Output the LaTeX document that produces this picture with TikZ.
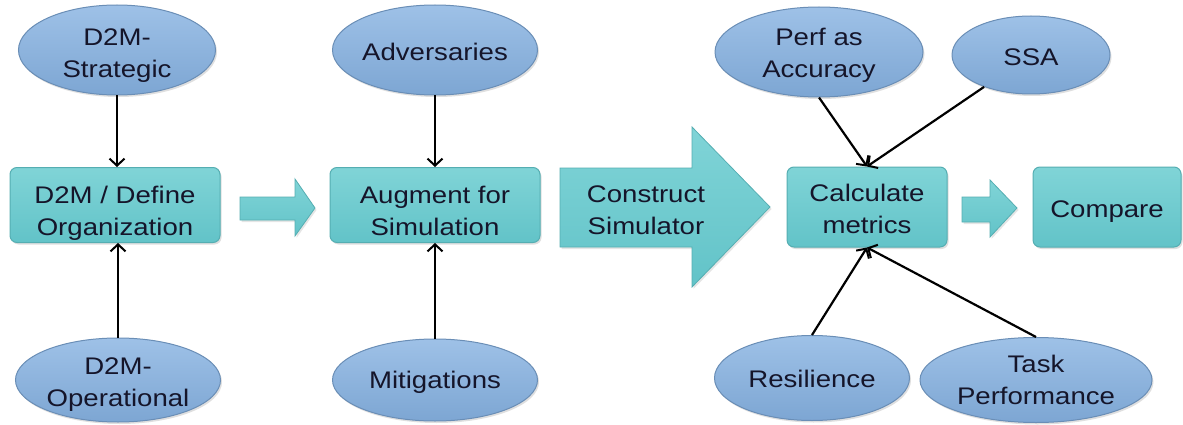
\documentclass[tikz,border=0pt]{standalone}
\usepackage{fontspec}
\setmainfont{Liberation Sans}[FakeStretch=1.15]
\usetikzlibrary{shapes.geometric,arrows.meta,shadows}
\definecolor{ellT}{HTML}{9EC1E7}
\definecolor{ellD}{HTML}{7DA6D3}
\definecolor{ellB}{HTML}{6A8EB6}
\definecolor{boxT}{HTML}{80D4D7}
\definecolor{boxD}{HTML}{62C3C8}
\definecolor{boxB}{HTML}{55AEB2}
\definecolor{txtC}{HTML}{15152A}
\begin{document}
\begin{tikzpicture}[x=1pt,y=-1pt,
  txt/.style={font=\fontsize{24}{32}\selectfont, align=center, text=txtC, inner sep=0pt},
  ell/.style={ellipse, draw=ellB, line width=1pt, top color=ellT, bottom color=ellD, inner sep=0pt,
    drop shadow={opacity=0.25, shadow xshift=1.5pt, shadow yshift=-2pt}},
  box/.style={rectangle, rounded corners=7pt, draw=boxB, line width=1pt, top color=boxT, bottom color=boxD, inner sep=0pt,
    drop shadow={opacity=0.25, shadow xshift=1.5pt, shadow yshift=-2pt}},
  blk/.style={draw=boxB, line width=0.8pt, top color=boxT, bottom color=boxD, line join=miter,
    drop shadow={opacity=0.2, shadow xshift=1.5pt, shadow yshift=-2pt}},
  conn/.style={line width=2.2pt, -{Straight Barb[length=7pt,width=15pt,line width=2pt]}}
]
\useasboundingbox[fill=white] (0,0) rectangle (1183,425);

% ellipses
\node[ell, minimum width=197pt, minimum height=90pt, label={[txt,yshift=-6pt]center:{D2M-\\Strategic}}] (str) at (117,50) {};
\node[ell, minimum width=205pt, minimum height=84pt, label={[txt,yshift=-5pt]center:{D2M-\\Operational}}] (ope) at (118,380) {};
\node[ell, minimum width=205pt, minimum height=90pt, label={[txt,yshift=-2pt]center:{Adversaries}}] (adv) at (435,50) {};
\node[ell, minimum width=205pt, minimum height=82pt, label={[txt,yshift=-2pt]center:{Mitigations}}] (mit) at (435,380) {};
\node[ell, minimum width=208pt, minimum height=90pt, label={[txt,yshift=-3pt]center:{Perf as\\Accuracy}}] (perf) at (819,52) {};
\node[ell, minimum width=158pt, minimum height=78pt, label={[txt,yshift=-2pt]center:{SSA}}] (ssa) at (1031,55) {};
\node[ell, minimum width=195pt, minimum height=85pt, label={[txt,yshift=-1pt]center:{Resilience}}] (res) at (812,378) {};
\node[ell, minimum width=232pt, minimum height=85pt, label={[txt]center:{Task\\Performance}}] (task) at (1036,380) {};

% boxes
\node[box, minimum width=210pt, minimum height=75pt, label={[txt,yshift=-8pt]center:{D2M / Define\\Organization}}] (def) at (115,205) {};
\node[box, minimum width=210pt, minimum height=75pt, label={[txt,yshift=-6pt]center:{Augment for\\Simulation}}] (aug) at (435,205) {};
\node[box, minimum width=160pt, minimum height=80pt, label={[txt,yshift=-2pt]center:{Calculate\\metrics}}] (calc) at (867,207) {};
\node[box, minimum width=148pt, minimum height=80pt, label={[txt,yshift=-5pt]center:{Compare}}] (cmp) at (1107,207) {};

% block arrows
\path[blk] (240,197) -- (295,197) -- (295,179) -- (315,208) -- (295,236) -- (295,220) -- (240,220) -- cycle;
\path[blk] (962,197) -- (990,197) -- (990,180) -- (1017,208) -- (990,237) -- (990,222) -- (962,222) -- cycle;
\path[blk] (560,168) -- (692,168) -- (692,127) -- (770,207) -- (692,287) -- (692,247) -- (560,247) -- cycle;
\node[txt] (cs) at (646,210) {Construct\\Simulator};

% connectors
\draw[conn] (str.south) -- (str.south |- def.north);
\draw[conn] (ope.north) -- (ope.north |- def.south);
\draw[conn] (adv.south) -- (adv.south |- aug.north);
\draw[conn] (mit.north) -- (mit.north |- aug.south);
\draw[conn] (perf.south) -- (calc.north);
\draw[conn] (ssa) -- (calc.north);
\draw[conn] (res.north) -- (calc.south);
\draw[conn] (task.north) -- (calc.south);
\end{tikzpicture}
\end{document}
